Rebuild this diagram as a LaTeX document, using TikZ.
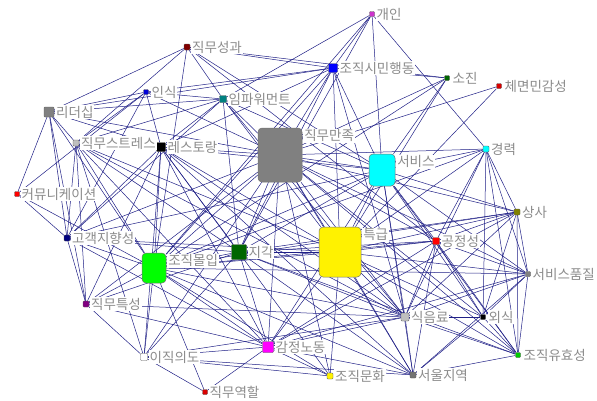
\documentclass[tikz,border=0pt]{standalone}
\usepackage{fontspec}
\usepackage{tikz}
\usetikzlibrary{positioning, backgrounds}
\newfontfamily\krfont{Noto Sans CJK KR}
\definecolor{edgeblue}{RGB}{32,32,135}
\definecolor{labelgray}{RGB}{140,140,140}
\definecolor{darkred}{RGB}{128,0,0}
\definecolor{teal2}{RGB}{0,128,128}
\definecolor{olive2}{RGB}{128,128,0}
\definecolor{navy2}{RGB}{0,0,128}
\definecolor{purple2}{RGB}{128,0,128}
\definecolor{dgreen}{RGB}{0,102,0}
\definecolor{aqua}{RGB}{0,255,255}
\definecolor{fuchsia}{RGB}{255,0,255}
\definecolor{orchid2}{RGB}{204,51,204}

\begin{document}
\begin{tikzpicture}[x=1pt,y=-1pt,
    vtx/.style={rectangle, draw=black!65, line width=0.4pt, inner sep=0pt, minimum size=#1, rounded corners=0.8pt},
    vtx/.default=6pt,
    big/.style={rectangle, draw=black!55, line width=0.5pt, inner sep=0pt, rounded corners=4pt},
    lbl/.style={text=labelgray, fill=white, inner sep=0.8pt, font=\krfont\fontsize{13.5}{14}\selectfont},
    link/.style={draw=edgeblue, line width=0.5pt}]
  \useasboundingbox (0,0) rectangle (597,400);

  % vertices
  \node[vtx=5pt, fill=orchid2] (gaein) at (372,14) {};
  \node[vtx, fill=darkred] (jmsg) at (187,47) {};
  \node[vtx=9pt, fill=blue] (jsmh) at (333,68) {};
  \node[vtx=5pt, fill=dgreen] (sojin) at (447,78) {};
  \node[vtx=5pt, fill=red!85!black] (chemyeon) at (499,86) {};
  \node[vtx=5pt, fill=blue!85!black] (insik) at (146,92) {};
  \node[vtx=7pt, fill=teal2] (empower) at (223,99) {};
  \node[vtx=10pt, fill=gray] (leader) at (49,112) {};
  \node[vtx, fill=black!25] (stress) at (76,143) {};
  \node[vtx=9pt, fill=black] (restaurant) at (161,147) {};
  \node[big, fill=gray, minimum width=44pt, minimum height=54pt] (jmmj) at (280,155) {};
  \node[big, fill=aqua, minimum width=26pt, minimum height=32pt] (service) at (382,170) {};
  \node[vtx, fill=aqua] (career) at (486,149) {};
  \node[vtx=5pt, fill=red] (comm) at (17,194) {};
  \node[vtx, fill=olive2] (boss) at (517,212) {};
  \node[vtx, fill=navy2] (customer) at (67,238) {};
  \node[big, fill=green, minimum width=24pt, minimum height=30pt] (commit) at (154,268) {};
  \node[vtx=15pt, fill=dgreen] (perception) at (239,252) {};
  \node[big, fill=yellow, minimum width=42pt, minimum height=50pt] (deluxe) at (340,252) {};
  \node[vtx=7pt, fill=red] (fairness) at (436,241) {};
  \node[vtx=5pt, fill=gray] (svcq) at (528,274) {};
  \node[vtx, fill=purple2] (jobchar) at (86,304) {};
  \node[vtx=8pt, fill=black!25] (fnb) at (405,317) {};
  \node[vtx=5pt, fill=black] (dining) at (483,317) {};
  \node[vtx=7pt, fill=white] (turnover) at (144,357) {};
  \node[vtx=11pt, fill=fuchsia] (emolabor) at (268,347) {};
  \node[vtx=5pt, fill=green!80!black] (orgeff) at (518,355) {};
  \node[vtx, fill=yellow] (orgcult) at (330,376) {};
  \node[vtx, fill=black!55] (seoul) at (413,375) {};
  \node[vtx=5pt, fill=red!85!black] (role) at (205,392) {};

  % labels
  \node[lbl, right=1pt of gaein] {개인};
  \node[lbl, right=1pt of jmsg] {직무성과};
  \node[lbl, right=1pt of jsmh] {조직시민행동};
  \node[lbl, right=2pt of sojin] {소진};
  \node[lbl, right=2pt of chemyeon] {체면민감성};
  \node[lbl, right=2pt of insik] {인식};
  \node[lbl, right=1pt of empower] {임파워먼트};
  \node[lbl, right=1pt of leader] {리더십};
  \node[lbl, right=1pt of stress] {직무스트레스};
  \node[lbl, right=1pt of restaurant] {레스토랑};
  \node[lbl, anchor=west] at ([xshift=1pt,yshift=-8pt]jmmj.north east) {직무만족};
  \node[lbl, anchor=west] at ([xshift=1pt,yshift=-8pt]service.north east) {서비스};
  \node[lbl, right=1pt of career] {경력};
  \node[lbl, right=1pt of comm] {커뮤니케이션};
  \node[lbl, right=1pt of boss] {상사};
  \node[lbl, right=1pt of customer] {고객지향성};
  \node[lbl, anchor=west] at ([xshift=1pt,yshift=-8pt]commit.north east) {조직몰입};
  \node[lbl, right=1pt of perception] {지각};
  \node[lbl, anchor=west] at ([xshift=1pt,yshift=-8pt]deluxe.north east) {특급};
  \node[lbl, right=1pt of fairness] {공정성};
  \node[lbl, right=1pt of svcq] {서비스품질};
  \node[lbl, right=1pt of jobchar] {직무특성};
  \node[lbl, right=1pt of fnb] {식음료};
  \node[lbl, right=2pt of dining] {외식};
  \node[lbl, right=1pt of turnover] {이직의도};
  \node[lbl, right=1pt of emolabor] {감정노동};
  \node[lbl, right=2pt of orgeff] {조직유효성};
  \node[lbl, right=1pt of orgcult] {조직문화};
  \node[lbl, right=1pt of seoul] {서울지역};
  \node[lbl, right=1pt of role] {직무역할};

  % ties
  \begin{scope}[on background layer]
    \fill[white] (0,0) rectangle (597,400);
    \path[link] (gaein) edge (jsmh) edge (commit) edge (empower) edge (perception) edge (service) edge (career);
    \path[link] (jmsg) edge (leader) edge (stress) edge (commit) edge (jsmh) edge (sojin) edge (empower) edge (service) edge (fairness);
    \path[link] (jsmh) edge (sojin) edge (service) edge (jmmj) edge (deluxe) edge (insik) edge (leader)
                       edge (restaurant) edge (perception) edge (commit) edge (fnb);
    \path[link] (sojin) edge (service) edge (deluxe) edge (commit) edge (jmmj);
    \path[link] (chemyeon) edge (jmmj) edge (deluxe);
    \path[link] (insik) edge (leader) edge (comm) edge (empower) edge (restaurant) edge (jmmj) edge (stress) edge (customer);
    \path[link] (empower) edge (leader) edge (restaurant) edge (stress) edge (customer) edge (jmmj)
                          edge (deluxe) edge (fnb) edge (service) edge (perception);
    \path[link] (leader) edge (comm) edge (customer) edge (jobchar) edge (stress) edge (restaurant) edge (jmmj) edge (commit);
    \path[link] (stress) edge (restaurant) edge (customer) edge (jobchar) edge (commit) edge (perception)
                         edge (deluxe) edge (emolabor) edge (turnover) edge (fnb);
    \path[link] (restaurant) edge (jmmj) edge (commit) edge (perception) edge (deluxe) edge (customer) edge (emolabor)
                             edge (fnb) edge (jobchar) edge (turnover) edge (service) edge (orgcult) edge (seoul);
    \path[link] (jmmj) edge (service) edge (deluxe) edge (commit) edge (perception) edge (emolabor) edge (fnb)
                       edge (seoul) edge (orgcult) edge (fairness) edge (boss) edge (career) edge (svcq)
                       edge (dining) edge (turnover) edge (customer) edge (jobchar) edge (orgeff);
    \path[link] (service) edge (deluxe) edge (commit) edge (perception) edge (career) edge (boss) edge (fairness)
                          edge (fnb) edge (dining) edge (seoul) edge (svcq) edge (orgeff) edge (emolabor) edge (customer);
    \path[link] (career) edge (boss) edge (fnb) edge (dining) edge (deluxe) edge (fairness) edge (orgeff) edge (svcq) edge (commit);
    \path[link] (comm) edge (customer) edge (commit);
    \path[link] (boss) edge (deluxe) edge (fairness) edge (svcq) edge (fnb) edge (dining) edge (commit)
                       edge (perception) edge (orgeff) edge (emolabor);
    \path[link] (customer) edge (jobchar) edge (commit) edge (perception) edge (deluxe) edge (emolabor);
    \path[link] (commit) edge (perception) edge (deluxe) edge (emolabor) edge (turnover) edge (jobchar) edge (fnb)
                         edge (seoul) edge (orgcult) edge (fairness) edge (role) edge (svcq);
    \path[link] (perception) edge (deluxe) edge (emolabor) edge (fnb) edge (turnover) edge (fairness)
                             edge (seoul) edge (orgeff) edge (jobchar);
    \path[link] (deluxe) edge (fairness) edge (fnb) edge (seoul) edge (orgcult) edge (emolabor) edge (svcq) edge (dining) edge (orgeff);
    \path[link] (fairness) edge (fnb) edge (dining) edge (seoul) edge (orgeff) edge (svcq) edge (emolabor);
    \path[link] (svcq) edge (orgeff) edge (fnb) edge (dining) edge (seoul) edge (emolabor);
    \path[link] (jobchar) edge (emolabor) edge (fnb) edge (turnover);
    \path[link] (fnb) edge (seoul) edge (dining) edge (orgeff) edge (emolabor) edge (turnover);
    \path[link] (dining) edge (seoul) edge (orgeff);
    \path[link] (turnover) edge (emolabor) edge (role) edge (seoul) edge (orgcult);
    \path[link] (emolabor) edge (orgcult) edge (seoul) edge (role);
    \path[link] (orgeff) edge (seoul);
  \end{scope}
\end{tikzpicture}
\end{document}
